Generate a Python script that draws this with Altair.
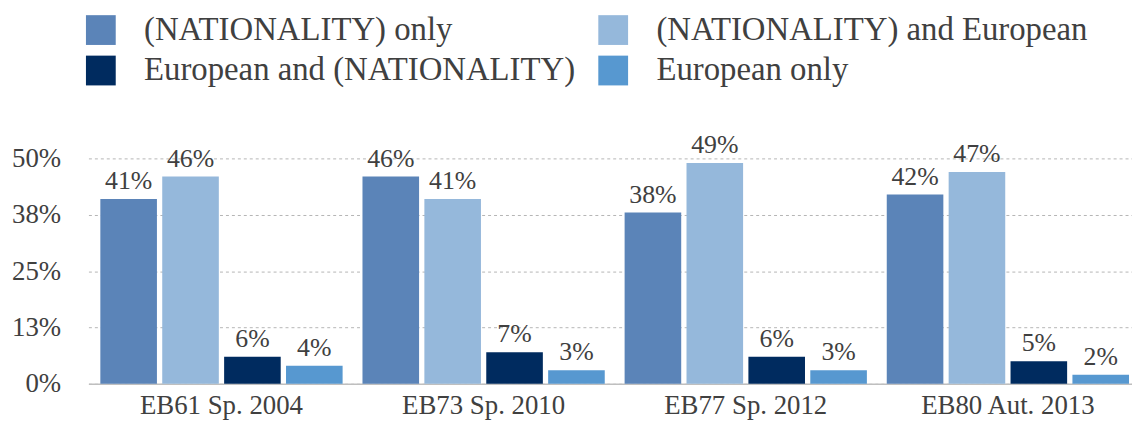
import altair as alt
import pandas as pd

groups = ["EB61 Sp. 2004", "EB73 Sp. 2010", "EB77 Sp. 2012", "EB80 Aut. 2013"]
series = ["(NATIONALITY) only", "(NATIONALITY) and European",
          "European and (NATIONALITY)", "European only"]
nat_only = [41, 46, 38, 42]
nat_and_eu = [46, 41, 49, 47]
eu_and_nat = [6, 7, 6, 5]
eu_only = [4, 3, 3, 2]
colors = ["#5b84b8", "#95b8db", "#002b5f", "#5798d0"]
y_ticks = [0, 12.5, 25, 37.5, 50]

rows = []
for s, vals in zip(series, [nat_only, nat_and_eu, eu_and_nat, eu_only]):
    for g, v in zip(groups, vals):
        rows.append({"group": g, "series": s, "value": v, "label": f"{v}%"})
df = pd.DataFrame(rows)

FONT = "Liberation Serif"
TXT = "#404040"

x = alt.X("group:N", sort=groups, title=None,
          scale=alt.Scale(paddingInner=0.0758, paddingOuter=0.0284, align=0.8),
          axis=alt.Axis(labelAngle=0, ticks=False, domain=True, domainColor="#bfbfbf",
                        domainWidth=1.5, labelFontSize=27, labelFont=FONT,
                        labelColor=TXT, labelPadding=9))
xo = alt.XOffset("series:N", sort=series,
                 scale=alt.Scale(paddingInner=0.0856, paddingOuter=0))
y = alt.Y("value:Q", title=None,
          scale=alt.Scale(domain=[0, 50], nice=False),
          axis=alt.Axis(values=y_ticks, labelExpr="format(datum.value, '.0f') + '%'",
                        ticks=False, domain=False, grid=True, gridColor="#b5b5b5",
                        gridDash=[3, 3], gridWidth=1, labelFontSize=27, labelFont=FONT,
                        labelColor=TXT, labelPadding=28))

bars = alt.Chart(df).mark_bar().encode(
    x=x, xOffset=xo, y=y,
    color=alt.Color("series:N", sort=series, title=None,
                    scale=alt.Scale(domain=series, range=colors),
                    legend=alt.Legend(orient="none", legendX=-4, legendY=-146,
                                      direction="horizontal", columns=2,
                                      symbolType="square", symbolSize=900,
                                      symbolStrokeWidth=0, labelFontSize=33,
                                      labelFont=FONT, labelColor=TXT,
                                      labelOffset=27, labelLimit=700,
                                      columnPadding=21, rowPadding=7)),
)

labels = alt.Chart(df).mark_text(font=FONT, fontSize=26, color=TXT,
                                 baseline="alphabetic", dy=-10).encode(
    x=alt.X("group:N", sort=groups), xOffset=alt.XOffset("series:N", sort=series),
    y="value:Q", text="label:N",
)

chart = (bars + labels).properties(
    width=1051, height=227,
    autosize=alt.AutoSizeParams(type="none"),
    padding={"left": 81, "top": 150, "right": 0, "bottom": 36},
).configure(font=FONT).configure_view(stroke=None).configure_axis(
    labelFont=FONT).configure_legend(labelFont=FONT).configure_text(font=FONT)

chart.save("out.html", embed_options={"renderer": "svg", "actions": False})
